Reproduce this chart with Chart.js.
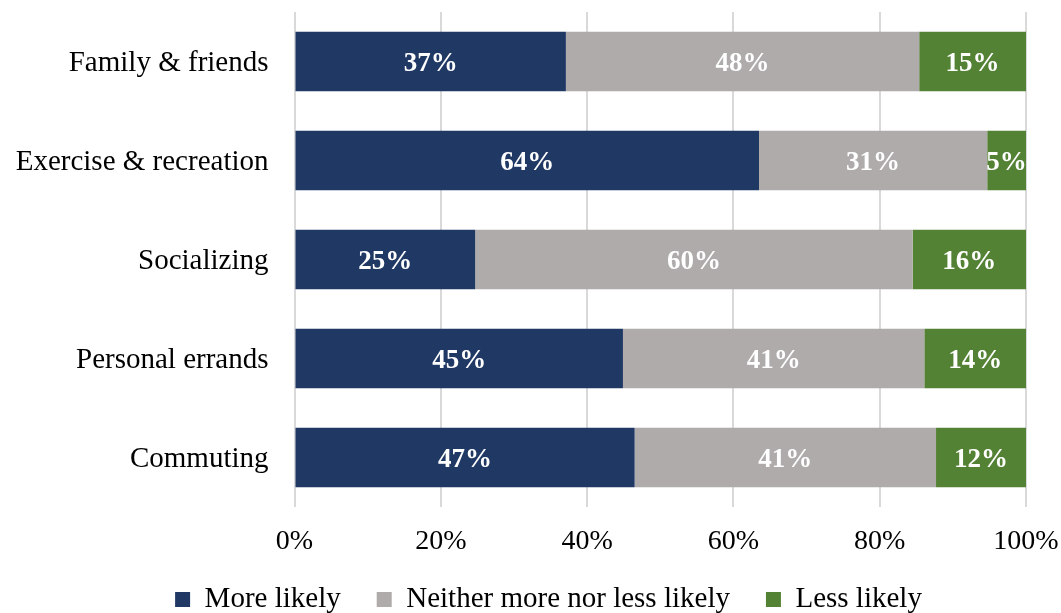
<!DOCTYPE html>
<html>
<head>
<meta charset="utf-8">
<script src="https://cdn.jsdelivr.net/npm/chart.js@4.4.1/dist/chart.umd.min.js"></script>
<style>
  html, body { margin: 0; padding: 0; overflow: hidden; background: #fff; }
  canvas { display: block; }
</style>
</head>
<body>
<canvas id="chart" width="1061" height="624"></canvas>
<script>
// categories, top to bottom
var categories = ['Family & friends', 'Exercise & recreation', 'Socializing', 'Personal errands', 'Commuting'];
// share of respondents (%)
var moreLikely = [37.1, 63.5, 24.7, 44.9, 46.5];
var neitherLikely = [48.3, 31.2, 59.8, 41.2, 41.2];
var lessLikely = [14.6, 5.3, 15.5, 13.9, 12.3];
var xTicks = [0, 20, 40, 60, 80, 100];

var serif = "'Liberation Serif', 'Times New Roman', serif";

// percent labels in the middle of every segment
var segmentLabels = {
    id: 'segmentLabels',
    afterDatasetsDraw: function (chart) {
        var ctx = chart.ctx;
        ctx.save();
        ctx.fillStyle = '#ffffff';
        ctx.font = 'bold 27px ' + serif;
        ctx.textAlign = 'center';
        ctx.textBaseline = 'middle';
        chart.data.datasets.forEach(function (ds, i) {
            chart.getDatasetMeta(i).data.forEach(function (bar, j) {
                var p = bar.getCenterPoint();
                ctx.fillText(Math.round(ds.data[j]) + '%', p.x, p.y + 2.5);
            });
        });
        ctx.restore();
    }
};

// legend sits a bit right of the canvas centre
var legendShift = {
    id: 'legendShift',
    afterLayout: function (chart) { chart.legend.left += 36; }
};

new Chart(document.getElementById('chart').getContext('2d'), {
    type: 'bar',
    data: {
        labels: categories,
        datasets: [
            { label: 'More likely', data: moreLikely, backgroundColor: '#203864' },
            { label: 'Neither more nor less likely', data: neitherLikely, backgroundColor: '#afabab' },
            { label: 'Less likely', data: lessLikely, backgroundColor: '#548235' }
        ]
    },
    options: {
        indexAxis: 'y',
        responsive: false,
        animation: false,
        categoryPercentage: 1,
        barPercentage: 0.6,
        layout: { padding: { top: 12, left: 0, right: 0, bottom: 0 } },
        scales: {
            x: {
                stacked: true,
                min: 0,
                max: 100,
                afterBuildTicks: function (s) { s.ticks = xTicks.map(function (v) { return { value: v }; }); },
                afterFit: function (s) { s.height = 42; s.paddingRight = 35; },
                grid: { color: '#d9d9d9', lineWidth: 2, drawTicks: false },
                border: { display: false },
                ticks: {
                    padding: 18,
                    color: '#000',
                    font: { family: serif, size: 28 },
                    callback: function (v) { return v + '%'; }
                }
            },
            y: {
                stacked: true,
                afterFit: function (s) { s.width = 294.5; s.paddingTop = 0; s.paddingBottom = 0; },
                grid: { display: false, drawTicks: false },
                border: { display: false },
                ticks: {
                    padding: 26,
                    labelOffset: 2,
                    color: '#000',
                    font: { family: serif, size: 29 }
                }
            }
        },
        plugins: {
            legend: {
                position: 'bottom',
                labels: {
                    boxWidth: 15,
                    boxHeight: 15,
                    padding: 36,
                    color: '#000',
                    font: { family: serif, size: 29 }
                }
            },
            tooltip: { enabled: false }
        }
    },
    plugins: [segmentLabels, legendShift]
});
</script>
</body>
</html>
